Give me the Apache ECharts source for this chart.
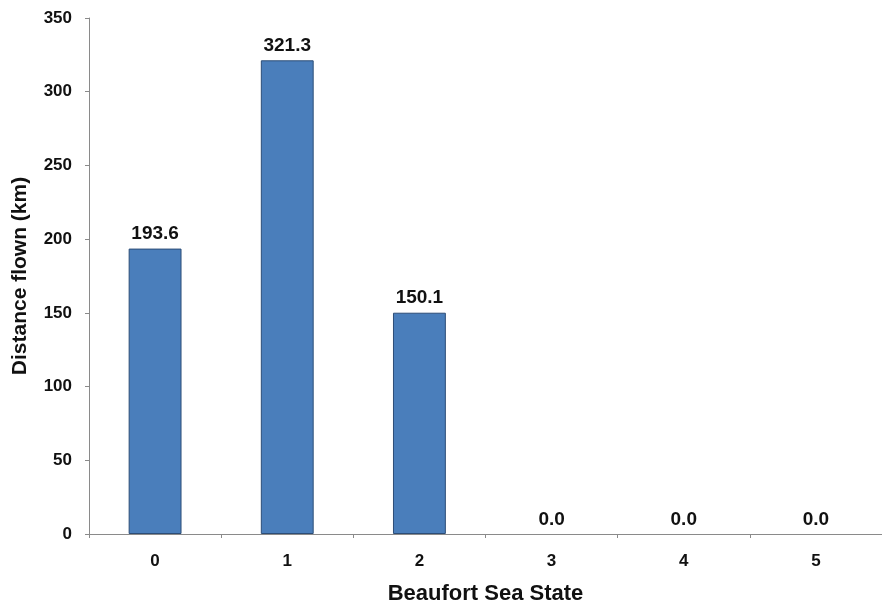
<!DOCTYPE html>
<html><head><meta charset="utf-8">
<script src="https://cdn.jsdelivr.net/npm/echarts@6/dist/echarts.min.js"></script>
<style>html,body{margin:0;padding:0;background:#fff}#c{width:882px;height:605px}</style>
</head><body><div id="c"></div>
<script>
const categories = ['0','1','2','3','4','5'];
const distances = [193.6, 321.3, 150.1, 0.0, 0.0, 0.0];
const yTicks = {min:0, max:350, interval:50};

const font = 'Liberation Sans, Arial';
const chart = echarts.init(document.getElementById('c'));
chart.setOption({
  animation:false,
  backgroundColor:'#fff',
  grid:{left:89, right:0, top:18, bottom:71, containLabel:false, outerBoundsMode:'none'},
  xAxis:{
    type:'category', data:categories,
    name:'Beaufort Sea State', nameLocation:'middle', nameGap:49,
    nameTextStyle:{fontFamily:font, fontWeight:'bold', fontSize:22, color:'#111'},
    axisLine:{lineStyle:{color:'#8a8a8a', width:1}},
    axisTick:{show:true, length:4, lineStyle:{color:'#8a8a8a'}},
    axisLabel:{fontFamily:font, fontWeight:'bold', fontSize:17, color:'#111', margin:19}
  },
  yAxis:{
    type:'value', min:yTicks.min, max:yTicks.max, interval:yTicks.interval,
    name:'Distance flown (km)', nameLocation:'middle', nameGap:58, nameRotate:90,
    nameTextStyle:{fontFamily:font, fontWeight:'bold', fontSize:21, color:'#111'},
    axisLine:{show:true, lineStyle:{color:'#8a8a8a', width:1}},
    axisTick:{show:true, length:4, lineStyle:{color:'#8a8a8a'}},
    splitLine:{show:false},
    axisLabel:{fontFamily:font, fontWeight:'bold', fontSize:17, color:'#111', margin:17}
  },
  series:[{
    type:'bar', barWidth:'40%',
    data:distances.map(v => v === 0 ? {value:v, itemStyle:{borderWidth:0}} : v),
    itemStyle:{color:'#4a7ebb', borderColor:'#2c4d77', borderWidth:1},
    label:{show:true, position:'top', distance:5, formatter:p=>p.value.toFixed(1),
      fontFamily:font, fontWeight:'bold', fontSize:19, color:'#111'}
  }]
});
</script></body></html>
